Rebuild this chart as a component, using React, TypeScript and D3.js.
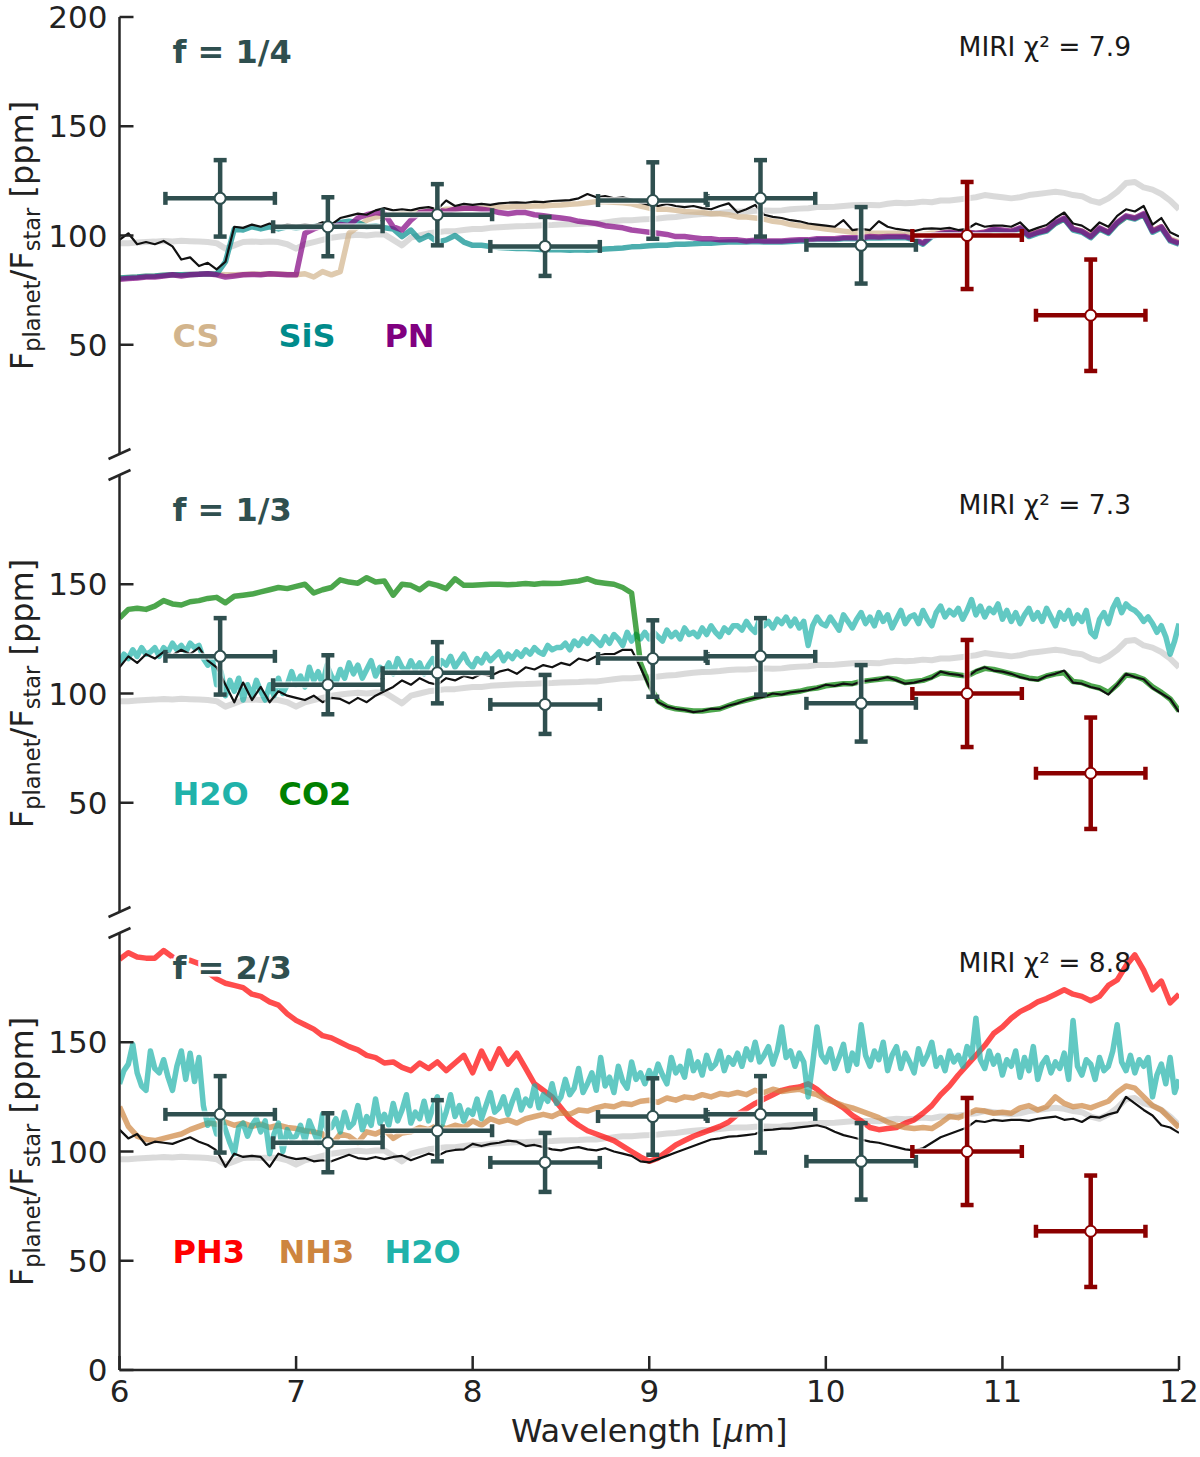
import React from 'react';
import * as d3 from 'd3';

// Wavelength grid (µm), 0.05 step
const WAVE = [
  6.00, 6.05, 6.10, 6.15, 6.20, 6.25, 6.30, 6.35, 6.40, 6.45,
  6.50, 6.55, 6.60, 6.65, 6.70, 6.75, 6.80, 6.85, 6.90, 6.95,
  7.00, 7.05, 7.10, 7.15, 7.20, 7.25, 7.30, 7.35, 7.40, 7.45,
  7.50, 7.55, 7.60, 7.65, 7.70, 7.75, 7.80, 7.85, 7.90, 7.95,
  8.00, 8.05, 8.10, 8.15, 8.20, 8.25, 8.30, 8.35, 8.40, 8.45,
  8.50, 8.55, 8.60, 8.65, 8.70, 8.75, 8.80, 8.85, 8.90, 8.95,
  9.00, 9.05, 9.10, 9.15, 9.20, 9.25, 9.30, 9.35, 9.40, 9.45,
  9.50, 9.55, 9.60, 9.65, 9.70, 9.75, 9.80, 9.85, 9.90, 9.95,
  10.00, 10.05, 10.10, 10.15, 10.20, 10.25, 10.30, 10.35, 10.40, 10.45,
  10.50, 10.55, 10.60, 10.65, 10.70, 10.75, 10.80, 10.85, 10.90, 10.95,
  11.00, 11.05, 11.10, 11.15, 11.20, 11.25, 11.30, 11.35, 11.40, 11.45,
  11.50, 11.55, 11.60, 11.65, 11.70, 11.75, 11.80, 11.85, 11.90, 11.95,
  12.00,
];

// Finer wavelength grid (µm), 0.025 step, for the noisiest water spectra
const WAVE_FINE = [
  6.000, 6.025, 6.050, 6.075, 6.100, 6.125, 6.150, 6.175, 6.200, 6.225,
  6.250, 6.275, 6.300, 6.325, 6.350, 6.375, 6.400, 6.425, 6.450, 6.475,
  6.500, 6.525, 6.550, 6.575, 6.600, 6.625, 6.650, 6.675, 6.700, 6.725,
  6.750, 6.775, 6.800, 6.825, 6.850, 6.875, 6.900, 6.925, 6.950, 6.975,
  7.000, 7.025, 7.050, 7.075, 7.100, 7.125, 7.150, 7.175, 7.200, 7.225,
  7.250, 7.275, 7.300, 7.325, 7.350, 7.375, 7.400, 7.425, 7.450, 7.475,
  7.500, 7.525, 7.550, 7.575, 7.600, 7.625, 7.650, 7.675, 7.700, 7.725,
  7.750, 7.775, 7.800, 7.825, 7.850, 7.875, 7.900, 7.925, 7.950, 7.975,
  8.000, 8.025, 8.050, 8.075, 8.100, 8.125, 8.150, 8.175, 8.200, 8.225,
  8.250, 8.275, 8.300, 8.325, 8.350, 8.375, 8.400, 8.425, 8.450, 8.475,
  8.500, 8.525, 8.550, 8.575, 8.600, 8.625, 8.650, 8.675, 8.700, 8.725,
  8.750, 8.775, 8.800, 8.825, 8.850, 8.875, 8.900, 8.925, 8.950, 8.975,
  9.000, 9.025, 9.050, 9.075, 9.100, 9.125, 9.150, 9.175, 9.200, 9.225,
  9.250, 9.275, 9.300, 9.325, 9.350, 9.375, 9.400, 9.425, 9.450, 9.475,
  9.500, 9.525, 9.550, 9.575, 9.600, 9.625, 9.650, 9.675, 9.700, 9.725,
  9.750, 9.775, 9.800, 9.825, 9.850, 9.875, 9.900, 9.925, 9.950, 9.975,
  10.000, 10.025, 10.050, 10.075, 10.100, 10.125, 10.150, 10.175, 10.200, 10.225,
  10.250, 10.275, 10.300, 10.325, 10.350, 10.375, 10.400, 10.425, 10.450, 10.475,
  10.500, 10.525, 10.550, 10.575, 10.600, 10.625, 10.650, 10.675, 10.700, 10.725,
  10.750, 10.775, 10.800, 10.825, 10.850, 10.875, 10.900, 10.925, 10.950, 10.975,
  11.000, 11.025, 11.050, 11.075, 11.100, 11.125, 11.150, 11.175, 11.200, 11.225,
  11.250, 11.275, 11.300, 11.325, 11.350, 11.375, 11.400, 11.425, 11.450, 11.475,
  11.500, 11.525, 11.550, 11.575, 11.600, 11.625, 11.650, 11.675, 11.700, 11.725,
  11.750, 11.775, 11.800, 11.825, 11.850, 11.875, 11.900, 11.925, 11.950, 11.975,
  12.000,
];

// Reference (grey) model, same in all panels (ppm)
const GRAY = [
  96.5, 96.5, 96.8, 97, 97.2, 97.5, 97.3, 97.6, 97.4, 97.2,
  97, 96.5, 94, 95.5, 97, 97.3, 97, 97.2, 97, 96,
  94, 96, 97, 98, 99, 99.5, 100, 100.3, 100, 100.5,
  100.5, 98, 95.5, 99, 100, 101, 101.5, 102, 102, 102.5,
  103, 103, 103.5, 103.8, 104, 104.2, 104.3, 104.5, 104.7, 104.8,
  105, 105.2, 105.3, 105.5, 105.5, 106, 106.5, 107, 107, 107.3,
  107.5, 107.8, 108.2, 108.5, 109, 109.5, 109.8, 110, 110.3, 110.8,
  111, 111, 111.3, 111.5, 111.3, 111.5, 112, 112.3, 112.5, 113,
  113, 113.2, 113.5, 113.8, 114, 114, 113.8, 114.5, 115, 114.8,
  115, 115.5, 115.2, 116, 116, 116.5, 117, 117.5, 118.5, 118,
  117.5, 117, 117.5, 118.5, 119, 119.5, 120, 119.5, 118.5, 118,
  116, 115, 117, 120, 124, 124.5, 122, 121, 119, 116,
  112,
];

// Panel f = 1/4
const P1_CS = [
  80.5, 80.8, 81, 81.3, 81.5, 81.8, 82, 82, 82.2, 82.3,
  82.5, 82.3, 82, 82, 82.2, 82.4, 82.3, 82.5, 82.4, 82.2,
  82, 82.5, 81, 83.5, 82, 83.5, 101, 104, 107, 108.5,
  109, 109.5, 110, 110, 110.5, 111, 111, 112, 112, 112.5,
  112.5, 112.5, 112.8, 113, 113, 113.3, 113.3, 113.5, 113.5, 113.8,
  114, 114.3, 114.5, 115, 115.5, 115.5, 115.2, 115, 114.5, 113.5,
  112.5, 112, 112, 111.5, 111, 110.8, 110.5, 110, 110, 109.5,
  108.5, 108.5, 108, 107.5, 106.5, 106, 105, 104.5, 104, 103.5,
  103, 102.5, 102, 101.5, 101.2, 101, 101, 101, 101, 100.5,
  100.5, 100.5, 101, 101, 101.5, 101, 101.5, 101, 101.5, 102.5,
  102, 102, 103, 100.5, 101.5, 102.5, 105.5, 107.5, 103, 102,
  100, 103, 101.5, 105.5, 108.5, 108, 109.5, 102.5, 104, 98.5,
  97,
];
const P1_SIS = [
  80.5, 80.8, 81, 81.3, 81.5, 81.8, 82, 82, 82.2, 82.3,
  82.5, 82.3, 88, 103, 102.5, 104, 103, 104, 103, 104,
  103.5, 104, 104, 105, 104.5, 106, 106.5, 106, 104, 104.5,
  103.5, 103, 99.5, 102.5, 98, 100, 97, 98, 100, 97,
  95.5, 95.5, 95, 94.5, 94.3, 94, 94, 93.8, 93.5, 93.5,
  93.5, 93.3, 93.5, 93.3, 93.5, 93.8, 94, 94.3, 94.8, 95,
  95.3, 95.5, 95.5, 96, 96, 96.2, 96.5, 96.5, 96.8, 97,
  97, 97, 97.2, 97, 97, 97, 97.3, 97.5, 97.5, 98,
  98, 98, 98.5, 98.5, 98.5, 99, 98.8, 99, 99, 99,
  98, 96, 99.5, 100.5, 101, 100.5, 101, 100.5, 101, 102.5,
  102, 101.5, 103, 99.5, 101, 102, 105.5, 107.5, 102.5, 101.5,
  99, 103, 101, 105.5, 108.5, 107.5, 109.5, 101.5, 103.5, 97.5,
  96,
];
const P1_PN = [
  80, 80.3, 80.6, 81, 81, 81.5, 82, 81.5, 82, 82.3,
  82.5, 82, 81, 81.5, 82, 82.2, 82, 82.5, 82.3, 82,
  82, 101, 103, 104.5, 104, 105, 104.5, 108, 109.5, 110.5,
  110, 104, 102.5, 107, 110.5, 111, 111.5, 111, 112, 112.5,
  112.5, 112, 111.5, 110.5, 110, 110.5, 110.5, 109.5, 109, 108.5,
  108, 107.5, 106.5, 106, 105.5, 104.5, 104, 103.5, 102.5, 102,
  101.5, 101, 100.5, 99.5, 99.5, 99, 98.5, 98.5, 98, 98,
  98, 97.5, 97.8, 97.5, 97.5, 97.5, 97.8, 98, 98, 98.5,
  98.5, 98.5, 99, 99, 99, 99.5, 99.3, 99.5, 99.5, 99.5,
  98.5, 96.5, 100, 101, 101.5, 101, 101.5, 101, 101.5, 103,
  102.5, 102, 103.5, 100, 101.5, 102.5, 106, 108, 103, 102,
  99.5, 103.5, 101.5, 106, 109, 108, 110, 102, 104, 98,
  96.5,
];
const P1_BEST = [
  98, 101, 96, 97, 96, 97.5, 95, 89, 90, 86,
  87.5, 84.5, 88, 104, 103.5, 105, 104, 105.5, 104, 105,
  104.5, 105, 104.5, 106, 105, 108, 109, 110, 109.5, 111.5,
  112.5, 111.5, 112, 111.5, 112.5, 113, 112, 116, 113.5, 114.5,
  114, 114.5, 114, 114.7, 115, 115.2, 115, 115.5, 115.3, 115.8,
  116, 116.2, 117, 119, 117.5, 118, 117, 117.5, 116.5, 115,
  114, 113.5, 114.5, 113.5, 113, 113.5, 112.5, 112, 113.5, 114.7,
  110.5, 112, 114, 109.5, 108.5, 108, 107, 106.5, 105.5, 105,
  104.5, 104, 107, 102.5, 103, 102.5, 106.5, 104, 103, 102.5,
  102, 103, 103.3, 103, 103.5, 102.5, 103, 105.5, 104, 104.5,
  104.5, 104, 106, 102, 103.5, 104.8, 108, 110.5, 105.5, 104.5,
  102, 106, 104, 109, 112, 111, 113.5, 105, 108, 101.5,
  99.5,
];

// Panel f = 1/3 (water on the fine grid)
const P2_H2O = [
  114, 118, 116, 120, 117, 121, 118, 119, 121, 117,
  121, 119, 123, 120, 122, 119, 123, 121, 122, 116,
  113, 116, 104, 110, 99, 106, 101, 107, 97, 104,
  99, 106, 101, 97, 104, 99, 107, 100, 104, 110,
  104, 108, 103, 112, 106, 110, 104, 113, 108, 105,
  111, 107, 114, 109, 113, 107, 111, 115, 108, 112,
  110, 114, 109, 116, 112, 110, 115, 111, 114, 109,
  113, 116, 111, 115, 113, 117, 112, 115, 118, 114,
  112, 116, 114, 118, 115, 117, 119, 115, 118, 116,
  119, 117, 120, 118, 121, 119, 118, 122, 120, 121,
  121, 123, 120, 124, 122, 125, 123, 126, 124, 122,
  126, 123, 127, 125, 122, 128, 124, 127, 125, 128,
  125, 128, 126, 124, 129, 126, 128, 125, 130, 127,
  128, 126, 130, 127, 131, 128, 126, 130, 128, 131,
  131, 129, 133, 130, 128, 134, 131, 133, 130, 134,
  132, 135, 131, 134, 130, 133, 122, 131, 135, 132,
  131, 135, 132, 129, 136, 133, 130, 134, 137, 132,
  135, 131, 137, 133, 136, 130, 134, 138, 132, 135,
  136, 132, 138, 134, 131, 137, 140, 135, 138, 136,
  139, 134, 138, 143, 136, 140, 135, 139, 137, 141,
  134, 138, 133, 137, 132, 136, 139, 134, 137, 133,
  139, 135, 131, 137, 134, 138, 132, 136, 133, 138,
  128, 126, 134, 137, 132, 139, 143, 137, 141, 139,
  138, 136, 133, 135, 132, 128, 131, 126, 118, 124,
  132,
];
const P2_CO2 = [
  134.5, 138.5, 139, 138.5, 140, 142.5, 141, 140.5, 142, 142.5,
  143.5, 144, 141.5, 144.5, 145, 145.5, 146.5, 147.5, 148.5, 148,
  149, 150, 146, 147.5, 148.5, 152, 151, 150.5, 153, 151,
  151.5, 145, 150, 149.5, 147.5, 150.5, 149.5, 148, 152.5, 149.5,
  149.5, 149.8, 150, 150, 149.8, 150, 150.3, 150, 150.5, 150.3,
  150.5, 151, 151.5, 152.5, 151, 150.5, 150, 148.5, 146, 114,
  104, 96.5, 94, 93, 92.5, 92, 92, 92.5, 93, 94.5,
  96, 97, 98, 99, 99.5, 100, 100.5, 101, 102, 102.5,
  103.5, 104, 104.5, 104.5, 105.5, 106, 106.5, 107, 106.5, 105,
  105.5, 106, 107.5, 109.5, 109, 108.5, 108, 110, 111.5, 111,
  110, 109, 108, 107, 106.5, 108, 109, 109.5, 105.5, 105,
  103.5, 102.5, 100.5, 104, 108.5, 108, 106.5, 103, 100.5, 97.5,
  92,
];
const P2_BEST = [
  112, 117, 114, 118, 116, 119, 117.5, 120, 118, 121,
  115, 112, 104, 96, 105, 97, 103, 96, 101, 99,
  98, 97, 99, 96, 98, 97.5, 95.5, 98, 96, 99,
  101, 103, 106, 104, 107, 105, 104, 107, 106, 108,
  107, 109, 108, 110, 111, 109, 112, 111, 113, 112,
  114, 113, 116, 115, 117, 118, 118, 120, 120, 112,
  103, 96, 94, 93, 92.5, 91.5, 92, 93, 93, 94.5,
  95.5, 97, 98, 98.5, 100, 99.5, 100.5, 101, 101.5, 102.5,
  104, 103.5, 104.5, 104, 105.5, 106, 106.5, 107.5, 106, 104.5,
  105, 106, 107, 110, 109, 108.5, 107.5, 110.5, 112, 110.5,
  110, 109, 107.5, 106.5, 106, 108, 109, 110.5, 105, 104.5,
  103, 102, 99.5, 104, 109, 107.5, 106.5, 102.5, 100, 97.5,
  91.5,
];

// Panel f = 2/3
const P3_PH3 = [
  188, 191, 189, 188.5, 188.5, 192, 189, 187, 187.5, 186,
  182, 179, 177, 176, 175, 172, 171, 168.5, 167, 163,
  160, 158, 156, 153, 152, 150, 148, 146.5, 144, 143,
  140.5, 141, 138.5, 137, 140.5, 138, 141, 137, 140.5, 144,
  136, 146, 138, 147, 140, 145, 138, 131, 128, 125,
  120, 115, 112, 109.5, 108, 106.5, 105, 102.5, 100, 97.5,
  95.5, 97, 100, 103, 105, 107, 108.5, 110, 111.5, 113.5,
  117, 119.5, 122, 124, 126, 128, 129, 129.5, 131, 128.5,
  125, 122.5, 120, 116.5, 114, 111, 110, 110.5, 111, 113,
  114.5, 117.5, 121, 126, 130, 135, 139.5, 144, 148.5, 154,
  157, 161, 164, 166, 168.5, 170, 172, 174, 172, 171,
  169, 171, 176, 178.5, 185, 190, 183, 174, 178, 168,
  172,
];
const P3_NH3 = [
  120.5, 111.5, 107, 105.5, 105, 106, 107, 108, 110, 111.5,
  113, 112.5, 113.5, 112, 113, 111.5, 112.5, 111, 112, 111,
  110.5, 109.5, 109, 108, 103, 108, 107, 104, 109, 108,
  110, 106, 108.5, 109, 111, 110, 112, 110.5, 112, 111,
  114, 112, 115, 113.5, 114.5, 113, 115, 116, 117, 116,
  118, 117, 119, 118.5, 120, 121, 120.5, 122, 121.5, 123,
  123.5, 122.5, 124.5, 123.5, 125, 124.5, 126, 125, 126.5, 126,
  127, 126, 128, 127, 128.5, 127.5, 128, 128.5, 127, 126,
  124, 122.5, 121, 120, 118.5, 117, 115.5, 113.5, 112, 111,
  110.5, 111, 110.5, 113, 116, 115.5, 117, 119, 118.5, 117.5,
  118, 117.5, 120, 121, 119, 120.5, 125, 122, 120.5, 121,
  120, 121.5, 123, 127, 130, 129, 125, 121, 119, 115,
  111,
];
const P3_H2O = [
  131, 137, 140, 149, 136, 130, 128, 146, 138, 136,
  142, 134, 128, 139, 146, 133, 145, 132, 143, 121,
  112, 115, 108, 116, 110, 104, 99, 111, 113, 107,
  112, 115, 109, 114, 99, 108, 113, 100, 110, 106,
  107, 112, 105, 114, 109, 104, 117, 110, 111, 115,
  109, 118, 111, 113, 121, 110, 116, 112, 124, 113,
  117, 112, 122, 114, 119, 126, 113, 118, 115, 123,
  114, 120, 125, 112, 118, 126, 116, 121, 114, 119,
  117, 124, 115, 121, 127, 118, 120, 125, 117, 123,
  128, 119, 124, 121, 130, 120, 126, 123, 131, 122,
  125, 133, 126, 129, 138, 127, 131, 136, 128, 143,
  130, 134, 127, 139, 132, 129, 141, 133, 136, 131,
  137, 133, 140, 135, 131, 143, 136, 139, 134, 146,
  137, 141, 135, 144, 138, 140, 146, 137, 143, 140,
  145, 139, 147, 142, 150, 141, 144, 148, 140, 146,
  157, 143, 146, 139, 145, 141, 125, 140, 157, 144,
  141, 147, 138, 143, 149, 137, 145, 140, 158, 144,
  139, 146, 142, 150, 137, 144, 148, 138, 145, 141,
  136, 147, 140, 144, 150, 139, 143, 137, 146, 141,
  144, 139, 148, 143, 161, 142, 138, 146, 140, 144,
  135, 142, 139, 146, 134, 143, 137, 148, 133, 140,
  143, 136, 141, 138, 145, 133, 160, 139, 135, 142,
  140, 133, 143, 137, 139, 146, 158, 141, 137, 144,
  136, 142, 139, 143, 125, 135, 140, 131, 143, 127,
  133,
];
const P3_BEST = [
  110, 106, 108, 103, 104.5, 104, 103.5, 105, 106.5, 104.5,
  103, 100.5, 93, 99, 97.5, 98, 97.5, 93, 99, 97.5,
  96.5, 97, 95.5, 96, 95.5, 97, 98.5, 97, 96.5, 97.5,
  96.5, 97.5, 98, 96, 97.5, 99, 98, 100, 100.7, 101,
  103.5, 102.5, 103.5, 104, 105, 104.5, 102.5, 103, 102, 101,
  100.5, 101.5, 102, 101, 100.5, 101.5, 100, 99, 98, 95.5,
  95, 96.5, 98, 99.5, 101, 102.5, 104, 105.5, 106, 106.8,
  107, 107.5, 108, 109.8, 110, 110.5, 110.5, 111, 111.5, 112,
  111, 109, 107.5, 106.5, 105.5, 104.5, 104, 103, 102, 101,
  100.5, 101.5, 104, 106.5, 108, 109.5, 111, 114, 113.5, 114.5,
  114, 114.5, 114.5, 114, 115, 115.5, 116, 114.5, 115, 113.5,
  116, 115.5, 117, 118, 125, 122, 119, 116.5, 112, 111,
  108.5,
];

// MIRI binned data points
const OBS_WAVE = [6.57, 7.18, 7.80, 8.41, 9.02, 9.63, 10.20, 10.80, 11.50];
const OBS_HALFWIDTH = [0.31, 0.31, 0.31, 0.31, 0.31, 0.31, 0.31, 0.31, 0.31];
const OBS_FLUX = [117, 104, 109.5, 95, 116, 117, 95.5, 100, 63.5];
const OBS_ERR = [17.5, 13.5, 14, 13.5, 17.5, 17.5, 17.5, 24.5, 25.5];
const OBS_GROUP = ['a', 'a', 'a', 'a', 'a', 'a', 'a', 'b', 'b'];

const X_TICKS = [6, 7, 8, 9, 10, 11, 12];
const TITLES = ['f = 1/4', 'f = 1/3', 'f = 2/3'];
const CHI_LABELS = ['MIRI χ² = 7.9', 'MIRI χ² = 7.3', 'MIRI χ² = 8.8'];
const Y_TICKS = [[200, 150, 100, 50], [150, 100, 50], [150, 100, 50, 0]];
const SPECIES = [['CS', 'SiS', 'PN'], ['H2O', 'CO2'], ['PH3', 'NH3', 'H2O']];

const FONT = '"DejaVu Sans", Verdana, sans-serif';
const AXIS = '#262626';
const DSG = '#2F4F4F';
const DRED = '#8B0000';

const SPECIES_COLOR: Record<string, string> = {
  CS: '#D2B48C', SiS: '#008B8B', PN: '#800080', H2O: '#20B2AA', CO2: '#008000', PH3: '#FF0000', NH3: '#CD853F',
};

export default function App() {
  const W = 1200;
  const H = 1457;
  const x = d3.scaleLinear().domain([6, 12]).range([119.5, 1179]);
  const left = 119.5;
  const right = 1179;

  const panelGeo = [
    { top: 17, bottom: 454, breakTop: false, breakBottom: true, xAxis: false },
    { top: 475, bottom: 912, breakTop: true, breakBottom: true, xAxis: false },
    { top: 933, bottom: 1370, breakTop: true, breakBottom: false, xAxis: true },
  ];

  const panelLines = [
    [
      { d: GRAY, g: WAVE, c: '#d3d3d3', w: 6, o: 0.85 },
      { d: P1_CS, g: WAVE, c: SPECIES_COLOR.CS, w: 5.5, o: 0.7 },
      { d: P1_SIS, g: WAVE, c: SPECIES_COLOR.SiS, w: 5.5, o: 0.7 },
      { d: P1_PN, g: WAVE, c: SPECIES_COLOR.PN, w: 5.5, o: 0.7 },
      { d: P1_BEST, g: WAVE, c: '#111', w: 2.2, o: 1 },
    ],
    [
      { d: GRAY, g: WAVE, c: '#d3d3d3', w: 6, o: 0.85 },
      { d: P2_H2O, g: WAVE_FINE, c: SPECIES_COLOR.H2O, w: 5.5, o: 0.7 },
      { d: P2_CO2, g: WAVE, c: SPECIES_COLOR.CO2, w: 5.5, o: 0.7 },
      { d: P2_BEST, g: WAVE, c: '#111', w: 2.2, o: 1 },
    ],
    [
      { d: GRAY, g: WAVE, c: '#d3d3d3', w: 6, o: 0.85 },
      { d: P3_PH3, g: WAVE, c: SPECIES_COLOR.PH3, w: 5.5, o: 0.7 },
      { d: P3_NH3, g: WAVE, c: SPECIES_COLOR.NH3, w: 5.5, o: 0.7 },
      { d: P3_H2O, g: WAVE_FINE, c: SPECIES_COLOR.H2O, w: 5.5, o: 0.7 },
      { d: P3_BEST, g: WAVE, c: '#111', w: 2.2, o: 1 },
    ],
  ];

  const breakMark = (cx: number, cy: number, key: string) => (
    <line key={key} x1={cx - 11} y1={cy + 5} x2={cx + 11} y2={cy - 5} stroke={AXIS} strokeWidth={2.5} />
  );

  return (
    <svg width={W} height={H} viewBox={`0 0 ${W} ${H}`} style={{ position: 'absolute', left: 0, top: 0, background: '#fff' }} fontFamily={FONT}>
      <rect x={0} y={0} width={W} height={H} fill="#fff" />
      <defs>
        {panelGeo.map((g, p) => (
          <clipPath id={`clip${p}`} key={p}>
            <rect x={left} y={g.top} width={right - left} height={g.bottom - g.top} />
          </clipPath>
        ))}
      </defs>
      {panelGeo.map((g, p) => {
        const y = d3.scaleLinear().domain([0, 200]).range([g.bottom, g.top]);
        const axisFrac = (f: number) => left + f * (right - left);
        return (
          <g key={p}>
            <g clipPath={`url(#clip${p})`}>
              {panelLines[p].map((l, k) => {
                const line = d3.line<number>().x((_, i) => x(l.g[i])).y((v) => y(v));
                return (
                  <path key={k} d={line(l.d) || ''} fill="none" stroke={l.c} strokeWidth={l.w} strokeOpacity={l.o} strokeLinejoin="round" />
                );
              })}
            </g>
            {OBS_WAVE.map((wv, i) => {
              const col = OBS_GROUP[i] === 'a' ? DSG : DRED;
              const cx = x(wv);
              const cy = y(OBS_FLUX[i]);
              const x1 = x(wv - OBS_HALFWIDTH[i]);
              const x2 = x(wv + OBS_HALFWIDTH[i]);
              const y1 = y(OBS_FLUX[i] + OBS_ERR[i]);
              const y2 = y(OBS_FLUX[i] - OBS_ERR[i]);
              const cap = 6.5;
              return (
                <g key={i}>
                  <g stroke="#fff" strokeWidth={7} strokeOpacity={0.7}>
                    <line x1={x1} y1={cy} x2={x2} y2={cy} />
                    <line x1={cx} y1={y1} x2={cx} y2={y2} />
                  </g>
                  <g stroke={col} strokeWidth={4.5}>
                    <line x1={x1} y1={cy} x2={x2} y2={cy} />
                    <line x1={cx} y1={y1} x2={cx} y2={y2} />
                    <line x1={x1} y1={cy - cap} x2={x1} y2={cy + cap} />
                    <line x1={x2} y1={cy - cap} x2={x2} y2={cy + cap} />
                    <line x1={cx - cap} y1={y1} x2={cx + cap} y2={y1} />
                    <line x1={cx - cap} y1={y2} x2={cx + cap} y2={y2} />
                  </g>
                  <circle cx={cx} cy={cy} r={5.5} fill="#fff" stroke={col} strokeWidth={2} />
                </g>
              );
            })}
            <line x1={left} y1={g.top} x2={left} y2={g.bottom} stroke={AXIS} strokeWidth={2.5} />
            {g.breakTop && breakMark(left, g.top, 'bt')}
            {g.breakBottom && breakMark(left, g.bottom, 'bb')}
            {Y_TICKS[p].map((t) => (
              <g key={t}>
                <line x1={left} y1={y(t)} x2={left + 14} y2={y(t)} stroke={AXIS} strokeWidth={2.5} />
                <text x={left - 12} y={y(t)} dy="0.36em" textAnchor="end" fontSize={31} fill="#222">{t}</text>
              </g>
            ))}
            <text transform={`translate(33, ${(g.top + g.bottom) / 2}) rotate(-90)`} textAnchor="middle" fontSize={32} fill="#222">
              F<tspan fontSize={22.5} dy={7}>planet</tspan><tspan dy={-7}>/F</tspan><tspan fontSize={22.5} dy={7}>star</tspan><tspan dy={-7}> [ppm]</tspan>
            </text>
            <text x={axisFrac(0.05)} y={g.top + 46} fontSize={32} fontWeight="bold" fill={DSG} stroke="#fff" strokeWidth={5} paintOrder="stroke">{TITLES[p]}</text>
            <text x={1131} y={g.top + 39} textAnchor="end" fontSize={26.5} fill="#1a1a1a">{CHI_LABELS[p]}</text>
            {SPECIES[p].map((s, k) => (
              <text key={s + k} x={axisFrac(0.05 + 0.1 * k)} y={g.top + 330} fontSize={32} fontWeight="bold" fill={SPECIES_COLOR[s]}>{s}</text>
            ))}
            {g.xAxis && (
              <g>
                <line x1={left} y1={g.bottom} x2={right} y2={g.bottom} stroke={AXIS} strokeWidth={2.5} />
                {X_TICKS.map((t) => (
                  <g key={t}>
                    <line x1={x(t)} y1={g.bottom} x2={x(t)} y2={g.bottom - 14} stroke={AXIS} strokeWidth={2.5} />
                    <text x={x(t)} y={g.bottom + 32} textAnchor="middle" fontSize={31} fill="#222">{t}</text>
                  </g>
                ))}
                <text x={(left + right) / 2} y={1442} textAnchor="middle" fontSize={32} fill="#222">
                  Wavelength [<tspan fontStyle="italic">μ</tspan>m]
                </text>
              </g>
            )}
          </g>
        );
      })}
    </svg>
  );
}
